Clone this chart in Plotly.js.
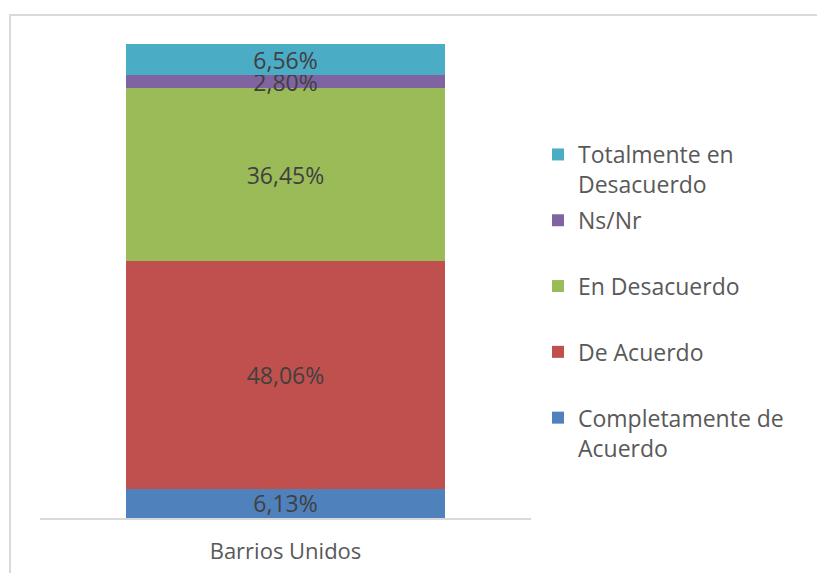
<!DOCTYPE html>
<html>
<head>
<meta charset="utf-8">
<script src="https://cdn.plot.ly/plotly-3.0.1.min.js"></script>
<style>html,body{margin:0;padding:0;background:#fff;}#chart{width:817px;height:573px;}</style>
</head>
<body>
<div id="chart"></div>
<script>
var categories = ["Barrios Unidos"];
var seriesNames = ["Completamente de<br>Acuerdo", "De Acuerdo", "En Desacuerdo", "Ns/Nr", "Totalmente en<br>Desacuerdo"];
var completamenteDeAcuerdo = [6.13];
var deAcuerdo = [48.06];
var enDesacuerdo = [36.45];
var nsNr = [2.80];
var totalmenteEnDesacuerdo = [6.56];
var seriesValues = [completamenteDeAcuerdo, deAcuerdo, enDesacuerdo, nsNr, totalmenteEnDesacuerdo];
var seriesColors = ["#4F81BD", "#C0504D", "#9BBB59", "#8064A2", "#4BACC6"];

var FONT = "Open Sans, sans-serif";
var traces = seriesNames.map(function (name, i) {
  var legendName = name.indexOf("<br>") >= 0 ? name : name + "<br> ";
  return {
    type: "bar",
    x: categories,
    y: seriesValues[i],
    name: legendName,
    legendgroup: "g" + i,
    legendrank: 100 - i,
    marker: { color: seriesColors[i], line: { width: 0 } },
    width: 0.648,
    texttemplate: "%{y:.2f}%",
    textposition: "inside",
    insidetextanchor: "middle",
    textangle: 0,
    constraintext: "none",
    textfont: { family: FONT, size: 23, color: "#404040" },
    hoverinfo: "skip"
  };
});

var L = 40, R = 531, T = 44, B = 518;
var px = function (p) { return (p - L) / (R - L); };
var py = function (p) { return (B - p) / (B - T); };

var layout = {
  width: 817,
  height: 573,
  margin: { l: L, r: 817 - R, t: T, b: 573 - B, pad: 0 },
  paper_bgcolor: "#ffffff",
  plot_bgcolor: "#ffffff",
  barmode: "stack",
  separators: ",.",
  font: { family: FONT, color: "#595959" },
  showlegend: true,
  legend: {
    x: px(538), xanchor: "left",
    y: py(133), yanchor: "top",
    traceorder: "grouped",
    tracegroupgap: 3,
    valign: "top",
    font: { family: FONT, size: 23, color: "#595959" },
    bgcolor: "rgba(0,0,0,0)"
  },
  xaxis: {
    type: "category",
    range: [-0.5, 0.5],
    showline: true,
    linecolor: "#D9D9D9",
    linewidth: 2,
    ticks: "",
    ticklabelstandoff: 13,
    showgrid: false,
    zeroline: false,
    tickfont: { family: FONT, size: 22, color: "#595959" },
    fixedrange: true
  },
  yaxis: {
    range: [0, 100],
    visible: false,
    fixedrange: true
  },
  shapes: [
    { type: "line", xref: "paper", yref: "paper", x0: px(10), x1: px(10), y0: py(15), y1: py(580), line: { color: "#D9D9D9", width: 2 } },
    { type: "line", xref: "paper", yref: "paper", x0: px(9), x1: px(830), y0: py(15), y1: py(15), line: { color: "#D9D9D9", width: 2 } }
  ]
};

Plotly.newPlot("chart", traces, layout, { displayModeBar: false, staticPlot: true });
</script>
</body>
</html>
